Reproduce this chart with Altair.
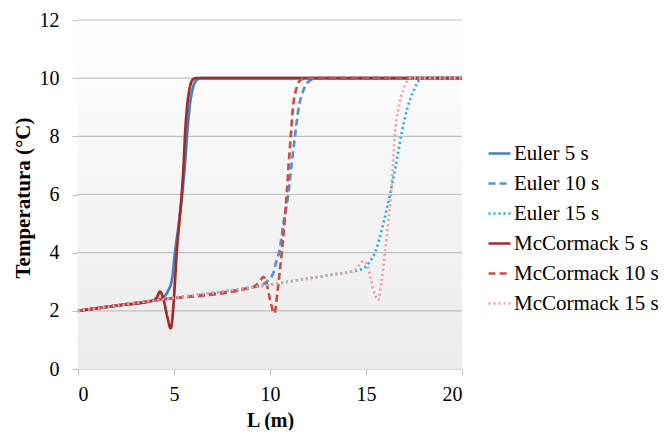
import altair as alt
import pandas as pd

series_names = ["Euler 5 s", "Euler 10 s", "Euler 15 s",
                "McCormack 5 s", "McCormack 10 s", "McCormack 15 s"]
series_colors = ["#4a7ebb", "#5b8fd6", "#1db0dc", "#a02b2b", "#c84e4b", "#e6a3a1"]
series_dash = [[1, 0], [7, 4], [2, 3], [1, 0], [7, 4], [2, 3]]

euler5_x = [0, 2, 4, 4.4, 4.7, 4.9, 5.05, 5.25, 5.47, 5.6, 5.7, 5.85, 6.0, 6.2, 6.4, 20]
euler5_y = [2.0, 2.18, 2.36, 2.45, 2.7, 3.1, 4.0, 5.0, 6.3, 7.3, 8.2, 9.2, 9.7, 9.95, 10, 10]

mc5_x = [0, 2, 3.9, 4.1, 4.27, 4.45, 4.65, 4.83, 4.95, 5.05, 5.14, 5.27, 5.4, 5.5, 5.57, 5.68, 5.8, 5.95, 6.1, 20]
mc5_y = [2.0, 2.18, 2.36, 2.45, 2.66, 2.4, 1.8, 1.4, 2.0, 3.0, 4.0, 5.0, 6.0, 7.0, 8.0, 9.0, 9.6, 9.93, 10, 10]

euler10_x = [0, 4, 9, 9.5, 9.83, 10.17, 10.35, 10.47, 10.7, 10.95, 11.12, 11.3, 11.5, 11.75, 12.1, 12.5, 20]
euler10_y = [2.0, 2.36, 2.8, 2.87, 3.0, 3.3, 3.75, 4.0, 5.0, 6.0, 7.0, 8.0, 9.0, 9.6, 9.93, 10, 10]

mc10_x = [0, 4, 8.96, 9.3, 9.5, 9.65, 9.8, 10.0, 10.23, 10.38, 10.5, 10.61, 10.75, 10.87, 10.97, 11.08, 11.2, 11.4, 11.6, 11.8, 20]
mc10_y = [2.0, 2.36, 2.79, 2.9, 3.05, 3.17, 3.0, 2.4, 1.91, 2.6, 3.3, 4.0, 5.0, 6.0, 7.0, 8.0, 9.0, 9.7, 9.95, 10, 10]

euler15_x = [0, 4, 9, 13.3, 14.17, 14.86, 15.2, 15.47, 15.9, 16.25, 16.55, 16.82, 17.17, 17.5, 17.9, 20]
euler15_y = [2.0, 2.36, 2.8, 3.25, 3.34, 3.46, 3.69, 4.0, 5.0, 6.0, 7.0, 8.0, 9.0, 9.6, 10, 10]

mc15_x = [0, 4, 9, 13.3, 14.17, 14.5, 14.86, 15.1, 15.35, 15.64, 15.8, 15.9, 15.99, 16.15, 16.3, 16.4, 16.5, 16.7, 16.95, 17.3, 20]
mc15_y = [2.0, 2.36, 2.8, 3.25, 3.34, 3.45, 3.71, 3.5, 2.8, 2.37, 3.0, 3.5, 4.0, 5.0, 6.0, 7.0, 8.0, 9.0, 9.6, 10, 10]

grid_values = [2, 4, 6, 8, 10, 12]
x_ticks = [0, 5, 10, 15, 20]
y_ticks = [0, 2, 4, 6, 8, 10, 12]

rows = []
for name, xs, ys in [
    ("Euler 5 s", euler5_x, euler5_y),
    ("Euler 10 s", euler10_x, euler10_y),
    ("Euler 15 s", euler15_x, euler15_y),
    ("McCormack 5 s", mc5_x, mc5_y),
    ("McCormack 10 s", mc10_x, mc10_y),
    ("McCormack 15 s", mc15_x, mc15_y),
]:
    for i, (xv, yv) in enumerate(zip(xs, ys)):
        rows.append({"serie": name, "L": xv, "T": yv, "i": i})
df = pd.DataFrame(rows)

W, H = 384, 349
SERIF = "'Liberation Serif', 'Times New Roman', serif"

xscale = alt.Scale(domain=[0, 20], nice=False)
yscale = alt.Scale(domain=[0, 12], nice=False)

y_axis = alt.Axis(values=y_ticks, title="Temperatura (°C)", grid=False,
                  labelFont=SERIF, labelFontSize=20, labelColor="#000000",
                  labelPadding=13,
                  titleFont=SERIF, titleFontSize=21, titleFontWeight="bold",
                  titleColor="#000000",
                  titleY=H / 2 + 3, titleX=-55, titleBaseline="middle")
x_axis = alt.Axis(values=x_ticks, title="L (m)", grid=False,
                  labelFont=SERIF, labelFontSize=20, labelColor="#000000",
                  labelPadding=9, titlePadding=6, domainColor="#d9d9d9",
                  titleFont=SERIF, titleFontSize=20, titleFontWeight="bold",
                  titleColor="#000000")

bg = alt.Chart(pd.DataFrame({"a": [0]})).mark_rect(
    fill=alt.LinearGradient(
        gradient="linear",
        stops=[alt.GradientStop(color="#ffffff", offset=0),
               alt.GradientStop(color="#ebebeb", offset=1)],
        x1=0, x2=0, y1=0, y2=1,
    )
).encode(x=alt.value(0), x2=alt.value(W), y=alt.value(0), y2=alt.value(H))

grid = alt.Chart(pd.DataFrame({"g": grid_values})).mark_rule(
    color="#bfbfbf", strokeWidth=1.2
).encode(y=alt.Y("g:Q", scale=yscale, axis=y_axis))

lines = alt.Chart(df).mark_line(strokeWidth=2.7, interpolate="monotone").encode(
    x=alt.X("L:Q", scale=xscale, axis=x_axis),
    y=alt.Y("T:Q", scale=yscale, axis=y_axis),
    color=alt.Color("serie:N",
                    scale=alt.Scale(domain=series_names, range=series_colors),
                    legend=alt.Legend(title=None)),
    strokeDash=alt.StrokeDash("serie:N",
                              scale=alt.Scale(domain=series_names, range=series_dash),
                              legend=alt.Legend(title=None)),
    order="i:Q",
)

chart = alt.layer(bg, grid, lines).properties(
    width=W, height=H,
    autosize=alt.AutoSizeParams(type="none"),
    padding={"left": 70, "top": 12, "right": 202, "bottom": 61},
).configure_view(stroke=None).configure_axis(
    domainColor="#bfbfbf", tickColor="#bfbfbf", tickSize=6, domainWidth=1.2,
).configure_legend(
    orient="none", legendX=409, legendY=121,
    labelFont=SERIF, labelFontSize=21, labelColor="#000000",
    symbolType="stroke", symbolSize=480, symbolStrokeWidth=2.6,
    rowPadding=7, labelOffset=2, padding=0,
)

chart.save("out.html", embed_options={"renderer": "svg", "actions": False})
